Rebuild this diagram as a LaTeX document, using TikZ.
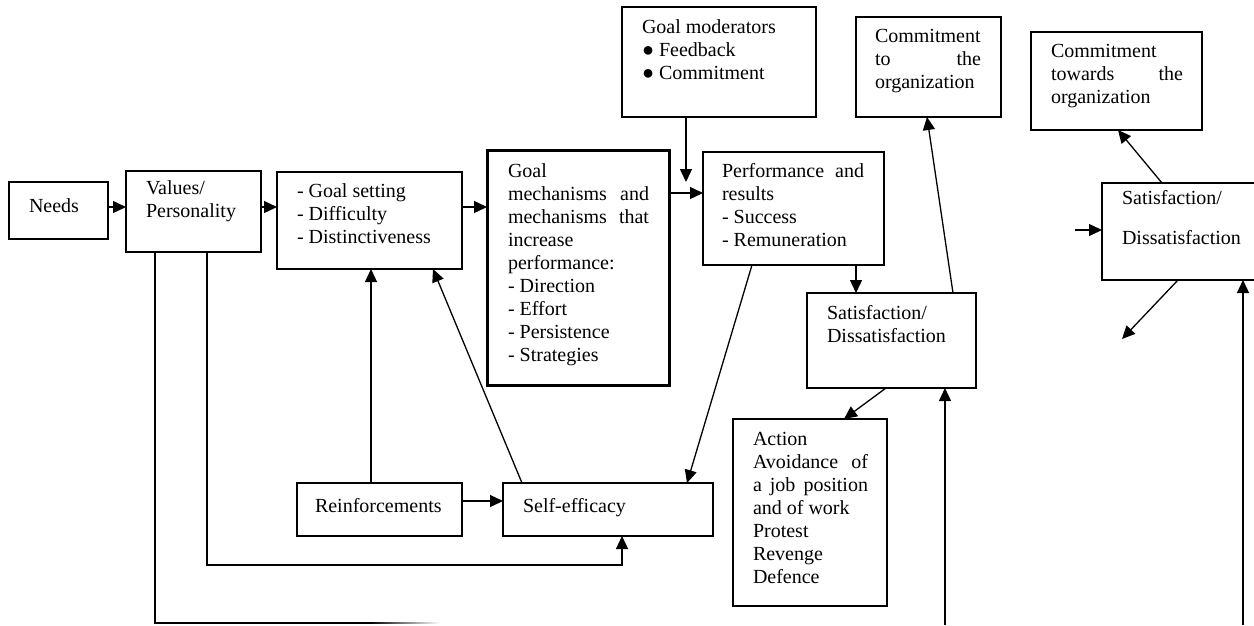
\documentclass[tikz,border=0pt]{standalone}
\usepackage{fontspec}
\setmainfont{Liberation Serif}
\usetikzlibrary{arrows.meta}
\begin{document}
\begin{tikzpicture}[x=1pt,y=-1pt,
  box/.style={draw, line width=1.3pt, anchor=north west, inner sep=0pt, outer sep=0pt},
  thickbox/.style={box, line width=3pt},
  txt/.style={anchor=north west, inner sep=0pt, outer sep=0pt, align=left, font=\fontsize{20}{23}\selectfont, execute at begin node={\vrule height 16.1pt depth 0pt width 0pt}},
  arr/.style={line width=1.3pt, -{Triangle[length=13pt,width=12pt]}},
  ln/.style={line width=1.3pt}]
\useasboundingbox (0,0) rectangle (1254,625);
\clip (0,0) rectangle (1254,625);
% boxes
\node[box, minimum width=99pt, minimum height=57pt] (needs) at (9,182) {};
\node[box, minimum width=135pt, minimum height=81pt] (values) at (126,171) {};
\node[box, minimum width=185pt, minimum height=97pt] (goalset) at (277,172) {};
\node[thickbox, minimum width=182pt, minimum height=235pt] (mech) at (487,150) {};
\node[box, minimum width=194pt, minimum height=110pt] (mod) at (622,7) {};
\node[box, minimum width=181pt, minimum height=113pt] (perf) at (703,152) {};
\node[box, minimum width=145pt, minimum height=100pt] (com1) at (856,17) {};
\node[box, minimum width=169pt, minimum height=95pt] (sat1) at (807,293) {};
\node[box, minimum width=154pt, minimum height=187pt] (action) at (733,419) {};
\node[box, minimum width=165pt, minimum height=53pt] (reinf) at (297,483) {};
\node[box, minimum width=210pt, minimum height=53pt] (self) at (503,483) {};
\node[box, minimum width=171pt, minimum height=98pt] (com2) at (1031,32) {};
\node[box, minimum width=170pt, minimum height=97pt] (sat2) at (1102,183) {};
% texts (top = first baseline - 16.1)
\node[txt] (needs-t) at (29,195.9) {Needs};
\node[txt] (values-t) at (146,180.9) {Values/\\Personality};
\node[txt] (goalset-t) at (297,183.9) {- Goal setting\\- Difficulty\\- Distinctiveness};
\node[txt] (mech-t) at (508,163.9) {Goal\\\makebox[141pt][s]{mechanisms and}\\\makebox[141pt][s]{mechanisms that}\\increase\\performance:\\- Direction\\- Effort\\- Persistence\\- Strategies};
\node[txt] (perf-t) at (722,163.9) {\makebox[142pt][s]{Performance and}\\results\\- Success\\- Remuneration};
\node[txt] (mod-t) at (642,19.9) {Goal moderators\\●\hspace{5pt}Feedback\\●\hspace{5pt}Commitment};
\node[txt] (com1-t) at (875,28.9) {Commitment\\\makebox[106pt][s]{to the}\\organization};
\node[txt] (com2-t) at (1051,43.9) {Commitment\\\makebox[132pt][s]{towards the}\\organization};
\node[txt, font=\fontsize{20}{40}\selectfont, execute at begin node={\vrule height 16.1pt depth 0pt width 0pt}] (sat2-t) at (1122,190.9) {Satisfaction/\\Dissatisfaction};
\node[txt] (sat1-t) at (827,305.9) {Satisfaction/\\Dissatisfaction};
\node[txt] (action-t) at (753,431.9) {Action\\\makebox[115pt][s]{Avoidance of}\\\makebox[115pt][s]{a job position}\\and of work\\Protest\\Revenge\\Defence};
\node[txt] (reinf-t) at (315,495.9) {Reinforcements};
\node[txt] (self-t) at (523,495.9) {Self-efficacy};
% free ends
\coordinate (modtip) at (686,182);
\coordinate (in1) at (945,625);
\coordinate (in2) at (1243,625);
\coordinate (out2) at (1122,339);
\coordinate (in3) at (1075,230);
% connectors
\draw[arr] ([yshift=-25pt]needs.north east) -- ([yshift=-36pt]values.north west);
\draw[arr] ([yshift=-36pt]values.north east) -- ([yshift=-35pt]goalset.north west);
\draw[arr] ([yshift=-35pt]goalset.north east) -- ([yshift=-57pt]mech.north west);
\draw[arr] ([yshift=-43pt]mech.north east) -- ([yshift=-41pt]perf.north west);
\draw[arr] (mod.south -| modtip) -- (modtip);
\draw[arr] ([xshift=153pt]perf.south west) -- ([xshift=49pt]sat1.north west);
\draw[arr] ([xshift=146pt]sat1.north west) -- ([xshift=71pt]com1.south west);
\draw[arr] ([xshift=49pt]perf.south west) -- ([xshift=184pt]self.north west);
\draw[arr] ([xshift=19pt]self.north west) -- ([xshift=156pt]goalset.south west);
\draw[arr] ([xshift=74pt]reinf.north west) -- ([xshift=94pt]goalset.south west);
\draw[arr] ([yshift=-18pt]reinf.north east) -- ([yshift=-18pt]self.north west);
\draw[arr] ([xshift=81pt]values.south west) -- ++(0,313) -| ([xshift=119pt]self.south west);
\draw[ln] ([xshift=29pt]values.south west) -- ++(0,371) -- ++(215,0);
\shade[left color=black, right color=white] (370,622.35) rectangle (440,623.65);
\draw[arr] ([xshift=79pt]sat1.south west) -- ([xshift=111pt]action.north west);
\draw[arr] (in1) -- (in1 |- sat1.south);
\draw[arr] (in2) -- (in2 |- sat2.south);
\draw[arr] ([xshift=76pt]sat2.south west) -- (out2);
\draw[arr] (in3) -- (in3 -| sat2.west);
\draw[arr] ([xshift=60pt]sat2.north west) -- ([xshift=87pt]com2.south west);
\end{tikzpicture}
\end{document}
